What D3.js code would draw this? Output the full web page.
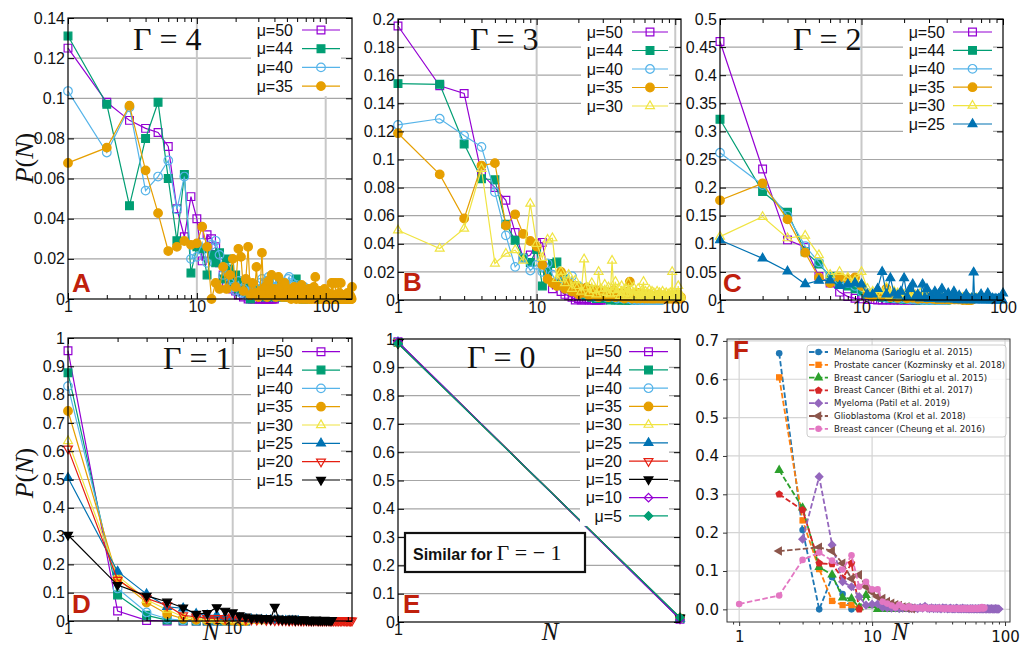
<!DOCTYPE html>
<html>
<head>
<meta charset="utf-8">
<script src="https://cdn.jsdelivr.net/npm/d3@7"></script>
<style>
  body { margin: 0; background: #fff; }
  svg { display: block; }
</style>
</head>
<body>
<svg id="fig" width="1021" height="647" font-family="'Liberation Sans', Arial, sans-serif"></svg>
<script>
// ---- legend entries shared by the gnuplot panels ----
const muLabels = ["μ=50", "μ=44", "μ=40", "μ=35", "μ=30", "μ=25", "μ=20", "μ=15", "μ=10", "μ=5"];
const muColors = ["#9400d3", "#009e73", "#56b4e9", "#e69f00", "#f0e442", "#0072b2", "#e51e10", "#000000", "#9400d3", "#009e73"];
const muMarkers = [["sq", 0], ["sq", 1], ["ci", 0], ["ci", 1], ["tri", 0], ["tri", 1], ["dtri", 0], ["dtri", 1], ["dia", 0], ["dia", 1]];

// ---- tick values ----
const yTicksA = [0, 0.02, 0.04, 0.06, 0.08, 0.1, 0.12, 0.14];
const yTicksB = [0, 0.02, 0.04, 0.06, 0.08, 0.1, 0.12, 0.14, 0.16, 0.18, 0.2];
const yTicksC = [0, 0.05, 0.1, 0.15, 0.2, 0.25, 0.3, 0.35, 0.4, 0.45, 0.5];
const yTicksD = [0, 0.1, 0.2, 0.3, 0.4, 0.5, 0.6, 0.7, 0.8, 0.9, 1];
const yTicksF = [0, 0.1, 0.2, 0.3, 0.4, 0.5, 0.6, 0.7];
const xLabelsLog = [1, 10, 100];

// ---- panel A (Gamma = 4), values for N = 1, 2, 3, ... ----
const a50 = [0.125, 0.098, 0.089, 0.085, 0.083, 0.076, 0.045, 0.031, 0.051, 0.040,
  0.019, 0.032, 0.030, 0.026, 0.018, 0.012, 0.008, 0.010, 0.005, 0.004,
  0.002, 0.006, 0.001, 0.003, 0.000, 0.001, 0, 0, 0.002, 0,
  0, 0, 0, 0, 0, 0, 0, 0, 0, 0];
const a44 = [0.131, 0.097, 0.0465, 0.080, 0.098, 0.060, 0.029, 0.062, 0.013, 0.026,
  0.025, 0.012, 0.022, 0.018, 0.023, 0.010, 0.020, 0.015, 0.008, 0.012,
  0.005, 0.009, 0.004, 0.006, 0.003, 0.000, 0.007, 0.004, 0.002, 0.003,
  0.005, 0.002, 0.004, 0.001, 0.003, 0.002, 0.006, 0.002, 0.001, 0.004,
  0.002, 0.003, 0.001, 0.002, 0.007, 0.002, 0.001, 0.003, 0.002, 0.001,
  0.004, 0.001, 0.002, 0.001, 0.003, 0.001, 0.002, 0.001, 0.010, 0.001,
  0.002, 0.001, 0.001, 0.002, 0.001, 0.001, 0, 0.001, 0, 0.001];
const a40 = [0.1036, 0.073, 0.0955, 0.054, 0.061, 0.069, 0.0447, 0.061, 0.020, 0.021,
  0.028, 0.018, 0.027, 0.029, 0.022, 0.012, 0.015, 0.008, 0.006, 0.004,
  0.009, 0.003, 0.005, 0.002, 0.006, 0.003, 0.004, 0.002, 0.005, 0.003,
  0.008, 0.010, 0.006, 0.004, 0.009, 0.011, 0.007, 0.005, 0.010, 0.006,
  0.008, 0.004, 0.007, 0.009, 0.005, 0.006, 0.003, 0.008, 0.004, 0.006,
  0.010, 0.011, 0.007, 0.005, 0.008, 0.004, 0.006, 0.003, 0.007, 0.005,
  0.004, 0.006, 0.003, 0.005, 0.002, 0.004, 0.003, 0.006, 0.002, 0.004,
  0.003, 0.002, 0.005, 0.002, 0.003, 0.002, 0.004, 0.001, 0.003, 0.002,
  0.001, 0.003, 0.002, 0.001, 0.002, 0.001, 0.002, 0.001, 0.001, 0.003];
const a35 = [0.0678, 0.0754, 0.0963, 0.0641, 0.0428, 0.0239, 0.026, 0.0289, 0.027, 0.0277,
  0.036, 0.026, 0.000, 0.008, 0.005, 0.016, 0.005, 0.012, 0.020, 0.006,
  0.025, 0.021, 0.004, 0.010, 0.026, 0.002, 0.008, 0.003, 0.016, 0.001,
  0.004, 0.023, 0.002, 0.006, 0.001, 0.009, 0.003, 0.012, 0.002, 0.005,
  0.001, 0.004, 0.011, 0.002, 0.006, 0.001, 0.003, 0.008, 0.001, 0.002,
  0.005, 0.001, 0.003, 0.000, 0.004, 0.001, 0.006, 0.002, 0.000, 0.003,
  0.001, 0.005, 0.000, 0.002, 0.007, 0.001, 0.000, 0.003, 0.001, 0.004,
  0.000, 0.002, 0.001, 0.005, 0.000, 0.001, 0.003, 0.000, 0.002, 0.001,
  0.006, 0.000, 0.011, 0.001, 0.000, 0.003, 0.001, 0.000, 0.002, 0.004,
  0.000, 0.001, 0.003, 0.000, 0.001, 0.002, 0.000, 0.005, 0.001, 0.000,
  0.002, 0.000, 0.001, 0.003, 0.000, 0.001, 0.000, 0.002, 0.000, 0.001,
  0.008, 0.000, 0.001, 0.008, 0.000, 0.002, 0.000, 0.001, 0.008, 0.000,
  0.001, 0.000, 0.002, 0.000, 0.008, 0.001, 0.000, 0.003, 0.000, 0.001,
  0.008, 0.000, 0.001, 0.000, 0.002, 0.000, 0.001, 0.000, 0.000, 0.001,
  0.000, 0.002, 0.000, 0.000, 0.001, 0.000, 0.000, 0.003, 0.000, 0.000,
  0.001, 0.000, 0.000, 0.002, 0.000, 0.000, 0.001, 0.000, 0.000, 0.006];

// ---- panel B (Gamma = 3) ----
const b50 = [0.195, 0.1525, 0.147, 0.090, 0.080, 0.071, 0.048, 0.030, 0.032, 0.040,
  0.041, 0.020, 0.008, 0.012, 0.006, 0.004, 0.003, 0.002, 0.000, 0.001,
  0, 0, 0.001, 0, 0, 0, 0, 0, 0, 0];
const b44 = [0.154, 0.1535, 0.111, 0.0863, 0.0856, 0.054, 0.0425, 0.030, 0.0267, 0.036,
  0.010, 0.020, 0.026, 0.027, 0.012, 0.015, 0.008, 0.010, 0.006, 0.009,
  0.004, 0.007, 0.003, 0.005, 0.002, 0.004, 0.001, 0.003, 0.002, 0.001,
  0.003, 0.001, 0.002, 0.000, 0.001, 0.002, 0.000, 0.001, 0.000, 0.001,
  0, 0.001, 0, 0, 0.001, 0, 0, 0.001, 0, 0,
  0, 0, 0.001, 0, 0, 0, 0, 0, 0, 0];
const b40 = [0.1246, 0.129, 0.117, 0.109, 0.0768, 0.046, 0.0236, 0.030, 0.021, 0.025,
  0.020, 0.026, 0.018, 0.012, 0.010, 0.014, 0.008, 0.017, 0.006, 0.010,
  0.005, 0.008, 0.004, 0.006, 0.003, 0.007, 0.002, 0.005, 0.004, 0.003,
  0.006, 0.002, 0.004, 0.003, 0.005, 0.002, 0.003, 0.001, 0.004, 0.002,
  0.003, 0.001, 0.002, 0.004, 0.001, 0.002, 0.001, 0.003, 0.000, 0.002,
  0.001, 0.000, 0.002, 0.001, 0.000, 0.001, 0.000, 0.002, 0.000, 0.001,
  0, 0.001, 0, 0, 0.001, 0, 0, 0.001, 0, 0,
  0, 0, 0.001, 0, 0, 0, 0, 0, 0, 0];
const b35 = [0.1187, 0.0894, 0.058, 0.0957, 0.0974, 0.053, 0.061, 0.047, 0.042, 0.038,
  0.025, 0.015, 0.012, 0.010, 0.020, 0.008, 0.012, 0.006, 0.010, 0.004,
  0.008, 0.005, 0.009, 0.003, 0.006, 0.004, 0.007, 0.002, 0.005, 0.003,
  0.006, 0.004, 0.002, 0.005, 0.003, 0.007, 0.002, 0.004, 0.003, 0.005,
  0.002, 0.004, 0.001, 0.003, 0.006, 0.002, 0.013, 0.003, 0.001, 0.004,
  0.002, 0.003, 0.001, 0.005, 0.002, 0.001, 0.003, 0.002, 0.004, 0.001,
  0.002, 0.003, 0.001, 0.002, 0.004, 0.001, 0.002, 0.001, 0.003, 0.001,
  0.002, 0.001, 0.003, 0.002, 0.001, 0.002, 0.004, 0.001, 0.002, 0.001,
  0.003, 0.001, 0.002, 0.001, 0.001, 0.003, 0.001, 0.002, 0.001, 0.002,
  0.001, 0.003, 0.001, 0.002, 0.001, 0.001, 0.002, 0.001, 0.003, 0.001,
  0.002, 0.001, 0.001, 0.002, 0.004, 0.001, 0.001, 0.002, 0.001, 0.002];
const b30 = [0.0496, 0.0366, 0.0508, 0.0934, 0.026, 0.033, 0.0355, 0.028, 0.0686, 0.040,
  0.030, 0.043, 0.044, 0.015, 0.020, 0.012, 0.018, 0.008, 0.014, 0.010,
  0.006, 0.029, 0.009, 0.005, 0.012, 0.007, 0.004, 0.020, 0.008, 0.006,
  0.011, 0.005, 0.009, 0.004, 0.028, 0.007, 0.013, 0.005, 0.008, 0.003,
  0.010, 0.006, 0.004, 0.008, 0.005, 0.012, 0.003, 0.007, 0.004, 0.009,
  0.003, 0.006, 0.002, 0.008, 0.004, 0.005, 0.003, 0.007, 0.013, 0.004,
  0.006, 0.003, 0.005, 0.002, 0.007, 0.004, 0.003, 0.006, 0.002, 0.005,
  0.003, 0.004, 0.002, 0.006, 0.003, 0.002, 0.005, 0.003, 0.004, 0.002,
  0.006, 0.003, 0.002, 0.004, 0.003, 0.005, 0.002, 0.003, 0.004, 0.002,
  0.003, 0.005, 0.002, 0.004, 0.020, 0.003, 0.002, 0.004, 0.002, 0.003,
  0.002, 0.004, 0.002, 0.003, 0.010, 0.002, 0.003, 0.002, 0.004, 0.002];

// ---- panel C (Gamma = 2) ----
const c50 = [0.460, 0.233, 0.107, 0.094, 0.042, 0.030, 0.014, 0.006, 0.003, 0.002,
  0.001, 0.001, 0, 0, 0, 0, 0, 0, 0, 0, 0, 0, 0, 0, 0];
const c44 = [0.3215, 0.193, 0.156, 0.086, 0.064, 0.042, 0.030, 0.025, 0.020, 0.015,
  0.010, 0.008, 0.006, 0.005, 0.004, 0.003, 0.003, 0.002, 0.002, 0.001,
  0.001, 0.001, 0.001, 0.000, 0.001, 0, 0.001, 0, 0, 0.001,
  0, 0, 0, 0, 0, 0, 0, 0, 0, 0];
const c40 = [0.262, 0.2046, 0.150, 0.096, 0.067, 0.040, 0.035, 0.030, 0.025, 0.015,
  0.012, 0.008, 0.006, 0.007, 0.004, 0.005, 0.003, 0.004, 0.002, 0.003,
  0.002, 0.001, 0.002, 0.001, 0.001, 0.002, 0, 0.001, 0, 0.001,
  0, 0, 0.001, 0, 0, 0, 0, 0, 0, 0];
const c35 = [0.1774, 0.2076, 0.1435, 0.0842, 0.040, 0.030, 0.040, 0.037, 0.040, 0.025,
  0.010, 0.006, 0.012, 0.008, 0.020, 0.005, 0.010, 0.004, 0.008, 0.006,
  0.003, 0.007, 0.004, 0.005, 0.002, 0.006, 0.003, 0.004, 0.002, 0.005,
  0.003, 0.002, 0.004, 0.001, 0.003, 0.002, 0.001, 0.003, 0.001, 0.002,
  0.001, 0.002, 0.001, 0.003, 0.001, 0.001, 0.002, 0.001, 0.001, 0.002,
  0.001, 0, 0.001, 0.001, 0, 0.001, 0, 0, 0.001, 0];
const c30 = [0.1127, 0.148, 0.110, 0.1145, 0.080, 0.045, 0.050, 0.040, 0.035, 0.050,
  0.020, 0.015, 0.018, 0.010, 0.022, 0.008, 0.015, 0.012, 0.006, 0.010,
  0.008, 0.014, 0.005, 0.009, 0.006, 0.012, 0.004, 0.008, 0.005, 0.010,
  0.004, 0.007, 0.003, 0.006, 0.004, 0.005, 0.003, 0.008, 0.002, 0.004,
  0.003, 0.005, 0.002, 0.004, 0.006, 0.002, 0.003, 0.004, 0.002, 0.003,
  0.002, 0.004, 0.001, 0.003, 0.002, 0.001, 0.003, 0.002, 0.001, 0.002,
  0.001, 0.002, 0.001, 0.001, 0.003, 0.001, 0.002, 0.001, 0.001, 0.002,
  0.001, 0.001, 0.002, 0.001, 0.001, 0.001, 0.002, 0.001, 0.001, 0.001];
const c25 = [0.1068, 0.074, 0.051, 0.0285, 0.0344, 0.035, 0.025, 0.028, 0.030, 0.028,
  0.010, 0.010, 0.020, 0.050, 0.010, 0.039, 0.012, 0.008, 0.015, 0.039,
  0.006, 0.020, 0.028, 0.005, 0.010, 0.003, 0.028, 0.004, 0.020, 0.002,
  0.008, 0.003, 0.015, 0.002, 0.010, 0.001, 0.020, 0.003, 0.006, 0.002,
  0.012, 0.001, 0.004, 0.002, 0.015, 0.001, 0.003, 0.000, 0.008, 0.001,
  0.002, 0.000, 0.004, 0.001, 0.010, 0.000, 0.002, 0.001, 0.000, 0.003,
  0.001, 0.049, 0.000, 0.002, 0.001, 0.000, 0.003, 0.000, 0.001, 0.010,
  0.000, 0.002, 0.000, 0.001, 0.003, 0.000, 0.001, 0.012, 0.000, 0.002,
  0.000, 0.001, 0.000, 0.003, 0.000, 0.001, 0.000, 0.002, 0.000, 0.001,
  0.000, 0.000, 0.002, 0.000, 0.001, 0.000, 0.000, 0.001, 0.000, 0.012];

// ---- panel D (Gamma = 1) ----
const d50 = [0.955, 0.035, 0.002, 0, 0, 0, 0, 0, 0, 0, 0, 0];
const d44 = [0.877, 0.092, 0.020, 0.003, 0.001, 0, 0, 0, 0, 0, 0, 0];
const d40 = [0.830, 0.115, 0.030, 0.008, 0.002, 0.001, 0, 0, 0, 0, 0, 0];
const d35 = [0.742, 0.150, 0.065, 0.025, 0.008, 0.004, 0.002, 0.002, 0.001, 0.001, 0, 0];
const d30 = [0.636, 0.160, 0.075, 0.040, 0.015, 0.010, 0.005, 0.006, 0.004, 0.003, 0.002, 0.002, 0.001, 0.001, 0];
const d25 = [0.506, 0.175, 0.095, 0.050, 0.045, 0.025, 0.020, 0.020, 0.015, 0.012,
  0.010, 0.008, 0.006, 0.005, 0.004, 0.003, 0.003, 0.002, 0.002, 0.001,
  0.001, 0.001, 0.001, 0, 0];
const d20 = [0.609, 0.145, 0.080, 0.055, 0.020, 0.015, 0.010, 0.010, 0.010, 0.015,
  0.008, 0.006, 0.005, 0.004, 0.006, 0.003, 0.004, 0.002, 0.003, 0.002,
  0.002, 0.001, 0.002, 0.001, 0.002, 0.001, 0.001, 0.002, 0.001, 0.001,
  0.001, 0.002, 0.001, 0.001, 0.001, 0.001, 0.001, 0.002, 0.001, 0.001,
  0.001, 0.001, 0.001, 0.001, 0.001, 0.001, 0.002, 0.001, 0.001, 0.001,
  0.001, 0.001, 0.001];
const d15 = [0.304, 0.127, 0.089, 0.068, 0.047, 0.025, 0.028, 0.048, 0.036, 0.030,
  0.020, 0.015, 0.010, 0.012, 0.008, 0.010, 0.006, 0.050, 0.008, 0.005,
  0.006, 0.004, 0.008, 0.003, 0.005, 0.004, 0.006, 0.003, 0.004, 0.002,
  0.003, 0.005, 0.002, 0.003, 0.002, 0.004, 0.002, 0.003, 0.002, 0.003];

// ---- panel E (Gamma = 0): two points each, N = 1 and N = 2 ----
const e50 = [0.990, 0.010];
const e44 = [0.988, 0.012];
const e40 = [0.989, 0.011];
const e35 = [0.987, 0.013];
const e30 = [0.986, 0.014];
const e25 = [0.988, 0.012];
const e20 = [0.987, 0.013];
const e15 = [0.985, 0.015];
const e10 = [0.990, 0.010];
const e5 = [0.984, 0.016];

// ---- panel F (experimental data) ----
const fNames = ["Melanoma (Sarioglu et al. 2015)", "Prostate cancer (Kozminsky et al. 2018)",
  "Breast cancer (Sarioglu et al. 2015)", "Breast Cancer (Bithi et al. 2017)",
  "Myeloma (Patil et al. 2019)", "Glioblastoma (Krol et al. 2018)", "Breast cancer (Cheung et al. 2016)"];
const fColors = ["#1f77b4", "#ff7f0e", "#2ca02c", "#d62728", "#9467bd", "#8c564b", "#e377c2"];
const fMarkers = ["circle", "square", "tri", "pent", "diamond", "ltri", "circle"];
const melanomaN = [2, 3, 4, 5, 6, 7];
const melanomaP = [0.668, 0.207, 0.0, 0.0835, 0.040, 0.0];
const prostateN = [2, 3, 4, 5, 6, 7, 8];
const prostateP = [0.605, 0.232, 0.105, 0.022, 0.011, 0.011, 0.003];
const breastSN = [2, 3, 4, 5, 6, 7, 8, 9, 10, 11, 12, 13, 14, 15, 16, 17, 18, 19, 20];
const breastSP = [0.363, 0.265, 0.110, 0.090, 0.030, 0.028, 0.005, 0.037, 0.010, 0.0,
  0.0, 0.0, 0.0, 0.0, 0.0, 0.0, 0.0, 0.005, 0.0];
const breastBN = [2, 3, 4, 5, 6, 7, 8];
const breastBP = [0.300, 0.259, 0.120, 0.118, 0.081, 0.120, 0.0];
const myelomaN = d3.range(3, 91);
const myelomaP = [0.183, 0.346, 0.168, 0.072, 0.059, 0.033, 0.011, 0.013, 0.014,
  0.005, 0.004, 0.003, 0.004, 0.002, 0.003, 0.004, 0.002, 0.003,
  0.004, 0.002, 0.005, 0.003, 0.008, 0.003, 0.002, 0.004, 0.002, 0.003,
  0.002, 0.003, 0.001, 0.004, 0.002, 0.003, 0.001, 0.002, 0.003, 0.001,
  0.002, 0.001, 0.003, 0.002, 0.001, 0.002, 0.001, 0.003, 0.001, 0.002,
  0.001, 0.002, 0.001, 0.001, 0.002, 0.001, 0.002, 0.001, 0.001, 0.002,
  0.001, 0.001, 0.002, 0.001, 0.001, 0.002, 0.001, 0.001, 0.001, 0.002,
  0.001, 0.001, 0.001, 0.002, 0.001, 0.001, 0.001, 0.001, 0.002, 0.001,
  0.001, 0.001, 0.001, 0.001, 0.002, 0.001, 0.001, 0.001, 0.001, 0.001];
const glioN = [2, 4, 5, 6, 7, 8, 9, 10, 11, 12, 13, 14, 15, 16, 17, 18, 19, 20];
const glioP = [0.152, 0.162, 0.152, 0.120, 0.080, 0.090, 0.059, 0.045, 0.033, 0.028,
  0.020, 0.016, 0.012, 0.010, 0.006, 0.005, 0.003, 0.002];
const cheungN = d3.range(1, 71);
const cheungP = [0.014, 0.036, 0.129, 0.148, 0.127, 0.104, 0.141, 0.059, 0.072, 0.052, 0.052,
  0.020, 0.015, 0.010, 0.005, 0.012, 0.006, 0.004, 0.008, 0.003,
  0.005, 0.003, 0.004, 0.002, 0.006, 0.003, 0.002, 0.004, 0.002, 0.003,
  0.002, 0.004, 0.002, 0.003, 0.001, 0.003, 0.002, 0.002, 0.001, 0.003,
  0.002, 0.001, 0.002, 0.003, 0.001, 0.002, 0.001, 0.002, 0.003, 0.001,
  0.002, 0.001, 0.002, 0.001, 0.003, 0.001, 0.002, 0.001, 0.002, 0.003,
  0.002, 0.001, 0.002, 0.003, 0.002, 0.004, 0.006, 0.003, 0.002, 0.004];
const fSeries = [[melanomaN, melanomaP], [prostateN, prostateP], [breastSN, breastSP],
  [breastBN, breastBP], [myelomaN, myelomaP], [glioN, glioP], [cheungN, cheungP]];

const svg = d3.select("#fig");
svg.append("rect").attr("width", 1021).attr("height", 647).attr("fill", "#fff");

const letterColor = "#c0200c";
const serif = "'Liberation Serif', 'DejaVu Serif', 'Times New Roman', serif";
const sansG = "'Liberation Sans', Arial, sans-serif";
const fmt = t => String(+t.toFixed(2));

// pentagon marker for matplotlib "p"
const symbolPentagon = {
  draw(ctx, size) {
    const r = Math.sqrt(size / 2.378);
    for (let i = 0; i < 5; i++) {
      const a = -Math.PI / 2 + i * 2 * Math.PI / 5;
      if (i === 0) ctx.moveTo(r * Math.cos(a), r * Math.sin(a));
      else ctx.lineTo(r * Math.cos(a), r * Math.sin(a));
    }
    ctx.closePath();
  }
};

const gnuShapes = {
  sq: { type: d3.symbolSquare, size: 60, rot: 0 },
  ci: { type: d3.symbolCircle, size: 58, rot: 0 },
  tri: { type: d3.symbolTriangle, size: 34, rot: 0 },
  dtri: { type: d3.symbolTriangle, size: 34, rot: 180 },
  dia: { type: d3.symbolSquare, size: 36, rot: 45 }
};

function gnuMarkers(g, pts, m, px, py) {
  const sh = gnuShapes[muMarkers[m][0]];
  const filled = muMarkers[m][1];
  g.selectAll(null).data(pts).join("path")
    .attr("transform", d => `translate(${px(d)},${py(d)}) rotate(${sh.rot})`)
    .attr("d", d3.symbol().type(sh.type).size(sh.size))
    .attr("fill", filled ? muColors[m] : "none")
    .attr("stroke", muColors[m])
    .attr("stroke-width", 1.2);
}

function gnuPanel(p) {
  const g = svg.append("g");
  const x = d3.scaleLog().domain(p.xDom).range([p.x0, p.x1]);
  const y = d3.scaleLinear().domain([p.yTicks[0], p.yTicks[p.yTicks.length - 1]]).range([p.y1, p.y0]);

  // grid
  g.selectAll(null).data(p.yTicks.slice(1, -1)).join("line")
    .attr("x1", p.x0).attr("x2", p.x1)
    .attr("y1", d => y(d)).attr("y2", d => y(d))
    .attr("stroke", "#a6a6a6").attr("stroke-width", 1.2);
  g.selectAll(null).data([10, 100].filter(v => v > p.xDom[0] && v < p.xDom[1])).join("line")
    .attr("x1", d => x(d)).attr("x2", d => x(d))
    .attr("y1", p.y0).attr("y2", p.y1)
    .attr("stroke", "#c8c8c8").attr("stroke-width", 2);

  // series
  p.series.forEach((vals, k) => {
    const m = p.mus[k];
    const pts = vals.map((v, i) => [i + 1, v]);
    g.append("path").datum(pts)
      .attr("d", d3.line().x(d => x(d[0])).y(d => y(d[1])))
      .attr("fill", "none").attr("stroke", muColors[m]).attr("stroke-width", 1.2);
    gnuMarkers(g, pts, m, d => x(d[0]), d => y(d[1]));
  });

  // key (opaque)
  const k = p.key;
  g.append("rect")
    .attr("x", k.right - 42).attr("y", k.top - 10)
    .attr("width", k.s1 - k.right + 43).attr("height", (p.mus.length - 1) * k.dy + 20)
    .attr("fill", "#fff");
  p.mus.forEach((m, i) => {
    const yy = k.top + i * k.dy;
    g.append("text").attr("x", k.right).attr("y", yy).attr("dy", "0.35em")
      .attr("text-anchor", "end").attr("font-size", 16).attr("fill", "#111").text(muLabels[m]);
    g.append("line").attr("x1", k.s0).attr("x2", k.s1).attr("y1", yy).attr("y2", yy)
      .attr("stroke", muColors[m]).attr("stroke-width", 1.2);
    gnuMarkers(g, [[(k.s0 + k.s1) / 2, yy]], m, d => d[0], d => d[1]);
  });

  // frame
  g.append("rect").attr("x", p.x0).attr("y", p.y0)
    .attr("width", p.x1 - p.x0).attr("height", p.y1 - p.y0)
    .attr("fill", "none").attr("stroke", "#000").attr("stroke-width", 1.2);

  // axes with inward ticks
  const majors = xLabelsLog.filter(v => v >= p.xDom[0] && v <= p.xDom[1] && p.xLabels.includes(v));
  const minors = [];
  [1, 10, 100].forEach(dec => d3.range(2, 10).forEach(j => {
    const v = j * dec;
    if (v < p.xDom[1]) minors.push(v);
  }));
  const styleAxis = a => { a.select(".domain").remove(); a.selectAll("line").attr("stroke", "#000").attr("stroke-width", 1); };
  const left = g.append("g").attr("transform", `translate(${p.x0},0)`)
    .call(d3.axisLeft(y).tickValues(p.yTicks).tickFormat(fmt).tickSize(-6).tickPadding(3));
  styleAxis(left);
  left.selectAll("text").attr("font-size", 16).attr("fill", "#111").attr("font-family", sansG);
  const right = g.append("g").attr("transform", `translate(${p.x1},0)`)
    .call(d3.axisRight(y).tickValues(p.yTicks).tickFormat("").tickSize(-6));
  styleAxis(right);
  const bottom = g.append("g").attr("transform", `translate(0,${p.y1})`)
    .call(d3.axisBottom(x).tickValues(majors).tickFormat(d3.format("d")).tickSize(-6).tickPadding(2));
  styleAxis(bottom);
  bottom.selectAll("text").attr("font-size", 16).attr("fill", "#111").attr("font-family", sansG);
  const top = g.append("g").attr("transform", `translate(0,${p.y0})`)
    .call(d3.axisTop(x).tickValues(majors).tickFormat("").tickSize(-6));
  styleAxis(top);
  if (p.minor) {
    [p.y1, p.y0].forEach((yy, i) => {
      const ax = i === 0 ? d3.axisBottom : d3.axisTop;
      const mg = g.append("g").attr("transform", `translate(0,${yy})`)
        .call(ax(x).tickValues(minors).tickFormat("").tickSize(-4));
      styleAxis(mg);
    });
  }

  // labels
  g.append("text").attr("x", p.gx).attr("y", p.gy)
    .attr("font-family", serif).attr("font-size", 32).attr("fill", "#111").text(p.gamma);
  g.append("text").attr("x", p.lx).attr("y", p.ly)
    .attr("font-weight", "bold").attr("font-size", 26).attr("fill", letterColor).text(p.letter);
  return { x, y, g };
}

gnuPanel({
  x0: 68, x1: 352, y0: 18, y1: 299, xDom: [1, 160], yTicks: yTicksA, xLabels: [1, 10, 100], minor: true,
  series: [a50, a44, a40, a35], mus: [0, 1, 2, 3],
  key: { right: 293, s0: 302, s1: 340, top: 30, dy: 18.7 },
  gamma: "Γ = 4", gx: 133, gy: 50, letter: "A", lx: 72, ly: 292
});
gnuPanel({
  x0: 398, x1: 681, y0: 19, y1: 300, xDom: [1, 110], yTicks: yTicksB, xLabels: [1, 10, 100], minor: true,
  series: [b50, b44, b40, b35, b30], mus: [0, 1, 2, 3, 4],
  key: { right: 623, s0: 632, s1: 668, top: 32, dy: 18.5 },
  gamma: "Γ = 3", gx: 470, gy: 50, letter: "B", lx: 403, ly: 291
});
gnuPanel({
  x0: 720, x1: 1003, y0: 19, y1: 300, xDom: [1, 100], yTicks: yTicksC, xLabels: [1, 10, 100], minor: true,
  series: [c50, c44, c40, c35, c30, c25], mus: [0, 1, 2, 3, 4, 5],
  key: { right: 945, s0: 953, s1: 992, top: 32, dy: 18.4 },
  gamma: "Γ = 2", gx: 793, gy: 50, letter: "C", lx: 723, ly: 292
});
gnuPanel({
  x0: 68, x1: 352, y0: 338, y1: 621, xDom: [1, 53], yTicks: yTicksD, xLabels: [1, 10], minor: true,
  series: [d50, d44, d40, d35, d30, d25, d20, d15], mus: [0, 1, 2, 3, 4, 5, 6, 7],
  key: { right: 293, s0: 302, s1: 340, top: 351.7, dy: 18.33 },
  gamma: "Γ = 1", gx: 163, gy: 369, letter: "D", lx: 72, ly: 613
});
gnuPanel({
  x0: 398, x1: 680, y0: 339, y1: 622, xDom: [1, 2], yTicks: yTicksD, xLabels: [1], minor: false,
  series: [e50, e44, e40, e35, e30, e25, e20, e15, e10, e5], mus: [0, 1, 2, 3, 4, 5, 6, 7, 8, 9],
  key: { right: 622, s0: 629, s1: 668, top: 351.7, dy: 18.25 },
  gamma: "Γ = 0", gx: 467, gy: 368, letter: "E", lx: 403, ly: 613
});

// "Similar for Gamma = -1" box in E
const note = svg.append("g");
note.append("rect").attr("x", 405).attr("y", 533).attr("width", 180).attr("height", 39)
  .attr("fill", "#fff").attr("stroke", "#111").attr("stroke-width", 2.2);
const noteText = note.append("text").attr("x", 413).attr("y", 560).attr("fill", "#111");
noteText.append("tspan").attr("font-weight", "bold").attr("font-size", 16).text("Similar for ");
noteText.append("tspan").attr("font-family", serif).attr("font-size", 22).text("Γ = − 1");

// P(N) and N axis titles
function pnLabel(cx, cy) {
  const t = svg.append("text").attr("transform", `translate(${cx},${cy}) rotate(-90)`)
    .attr("text-anchor", "middle").attr("font-family", serif)
    .attr("font-size", 26).attr("fill", "#111");
  t.append("tspan").attr("font-style", "italic").text("P");
  t.append("tspan").text("(");
  t.append("tspan").attr("font-style", "italic").text("N");
  t.append("tspan").text(")");
}
pnLabel(33, 158);
pnLabel(33, 473);
function nLabel(cx, by) {
  svg.append("text").attr("x", cx).attr("y", by).attr("text-anchor", "middle")
    .attr("font-family", serif).attr("font-style", "italic")
    .attr("font-size", 25).attr("fill", "#111").text("N");
}
nLabel(211, 640);
nLabel(550, 640);
nLabel(900, 640);

// ---- panel F (matplotlib style) ----
(function () {
  const x0 = 727, x1 = 1010, y0 = 339, y1 = 622;
  const g = svg.append("g");
  const x = d3.scaleLog().domain([0.81, 109]).range([x0, x1]);
  const y = d3.scaleLinear().domain([-0.033, 0.705]).range([y1, y0]);
  const sans = "'DejaVu Sans', Verdana, sans-serif";

  g.selectAll(null).data(yTicksF).join("line")
    .attr("x1", x0).attr("x2", x1).attr("y1", d => y(d)).attr("y2", d => y(d))
    .attr("stroke", "#d4d4d4").attr("stroke-width", 1.2);
  g.selectAll(null).data(xLabelsLog).join("line")
    .attr("x1", d => x(d)).attr("x2", d => x(d)).attr("y1", y0).attr("y2", y1)
    .attr("stroke", "#d4d4d4").attr("stroke-width", 1.2);

  const fShapes = {
    circle: [d3.symbolCircle, 34, 0], square: [d3.symbolSquare, 40, 0],
    tri: [d3.symbolTriangle, 40, 0], pent: [symbolPentagon, 38, 0],
    diamond: [d3.symbolSquare, 42, 45], ltri: [d3.symbolTriangle, 40, -90]
  };
  const drawF = (gg, pts, i) => {
    const s = fShapes[fMarkers[i]];
    gg.selectAll(null).data(pts).join("path")
      .attr("transform", d => `translate(${d[0]},${d[1]}) rotate(${s[2]})`)
      .attr("d", d3.symbol().type(s[0]).size(s[1]))
      .attr("fill", fColors[i]);
  };
  fSeries.forEach(([ns, ps], i) => {
    const pts = ns.map((n, j) => [x(n), y(ps[j])]);
    g.append("path").datum(pts).attr("d", d3.line())
      .attr("fill", "none").attr("stroke", fColors[i]).attr("stroke-width", 1.8)
      .attr("stroke-dasharray", "5.5,2.4");
    drawF(g, pts, i);
  });

  // spines
  g.append("rect").attr("x", x0).attr("y", y0).attr("width", x1 - x0).attr("height", y1 - y0)
    .attr("fill", "none").attr("stroke", "#333").attr("stroke-width", 1);

  const ya = g.append("g").attr("transform", `translate(${x0},0)`)
    .call(d3.axisLeft(y).tickValues(yTicksF).tickFormat(d3.format(".1f")).tickSize(4).tickPadding(4));
  ya.select(".domain").remove();
  ya.selectAll("line").attr("stroke", "#333");
  ya.selectAll("text").attr("font-size", 15).attr("font-family", sans).attr("fill", "#111");
  const xa = g.append("g").attr("transform", `translate(0,${y1})`)
    .call(d3.axisBottom(x).tickValues(xLabelsLog).tickFormat(d3.format("d")).tickSize(4).tickPadding(5));
  xa.select(".domain").remove();
  xa.selectAll("line").attr("stroke", "#333");
  xa.selectAll("text").attr("font-size", 15).attr("font-family", sans).attr("fill", "#111");
  const minorF = [];
  [0.1, 1, 10].forEach(dec => d3.range(2, 10).forEach(j => {
    const v = j * dec;
    if (v > 0.81 && v < 109) minorF.push(v);
  }));
  const xm = g.append("g").attr("transform", `translate(0,${y1})`)
    .call(d3.axisBottom(x).tickValues(minorF).tickFormat("").tickSize(2.5));
  xm.select(".domain").remove();
  xm.selectAll("line").attr("stroke", "#333");

  // legend
  const lg = g.append("g");
  lg.append("rect").attr("x", 807).attr("y", 345).attr("width", 199).attr("height", 92)
    .attr("rx", 3).attr("fill", "#fff").attr("fill-opacity", 0.85)
    .attr("stroke", "#cccccc").attr("stroke-width", 1);
  fNames.forEach((name, i) => {
    const yy = 352 + i * 12.8;
    lg.append("line").attr("x1", 809).attr("x2", 828).attr("y1", yy).attr("y2", yy)
      .attr("stroke", fColors[i]).attr("stroke-width", 1.8).attr("stroke-dasharray", "5.5,2.4");
    drawF(lg, [[818.5, yy]], i);
    lg.append("text").attr("x", 834).attr("y", yy).attr("dy", "0.35em")
      .attr("font-family", sans).attr("font-size", 8.6).attr("fill", "#222").text(name);
  });

  g.append("text").attr("x", 733).attr("y", 359)
    .attr("font-weight", "bold").attr("font-size", 26).attr("fill", letterColor).text("F");
})();
</script>
</body>
</html>
